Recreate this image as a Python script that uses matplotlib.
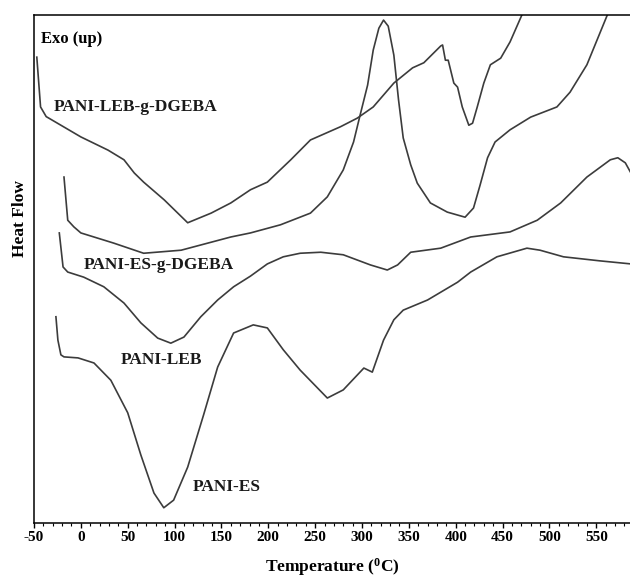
import matplotlib
matplotlib.use("Agg")
import matplotlib.pyplot as plt
from matplotlib.ticker import MultipleLocator

# DSC traces (heat flow in arbitrary units, 0 = axis, 100 = top frame)
leb_g_T = [-47, -43, -37, 0, 29, 46, 57, 67, 89, 114, 139, 160, 181, 199, 224, 245, 277, 295,
           312, 334, 354, 366, 384, 386, 389, 392, 394, 398, 402, 407, 414, 418, 423, 430,
           437, 448, 458, 473]
leb_g_H = [91.7, 81.9, 80.0, 76.0, 73.4, 71.5, 68.9, 67.1, 63.6, 59.1, 61.0, 63.0, 65.6, 67.1,
           71.5, 75.4, 78.0, 79.7, 81.9, 86.6, 89.6, 90.6, 93.9, 94.1, 91.1, 91.1, 89.6, 86.6,
           85.8, 81.9, 78.3, 78.7, 81.9, 86.6, 90.2, 91.5, 94.7, 101]

peak_T = [-18, -14, -7.5, 0, 35, 67, 107, 160, 181, 213, 245, 263, 280, 291, 298, 306, 312,
          318, 323, 328, 334, 339, 344, 352, 359, 373, 391, 410, 419, 426, 434, 442, 458,
          480, 508, 522, 540, 564]
peak_H = [68.1, 59.6, 58.3, 57.1, 55.1, 53.1, 53.7, 56.3, 57.1, 58.7, 61.0, 64.2, 69.5, 75.0,
          80.3, 86.2, 93.1, 97.4, 99.0, 97.8, 92.1, 83.3, 75.8, 70.5, 66.9, 63.0, 61.2, 60.2,
          62.0, 66.5, 71.9, 75.0, 77.4, 79.9, 81.9, 84.8, 90.2, 101]

es_g_T = [-23, -19, -14, 3, 24.5, 46, 64, 82, 96, 110, 128, 146, 163, 181, 199, 216, 234, 256,
          280, 309, 327, 338, 352, 384, 416, 458, 487, 512, 540, 565, 573, 581, 587]
es_g_H = [57.1, 50.4, 49.4, 48.4, 46.5, 43.3, 39.4, 36.4, 35.4, 36.6, 40.6, 43.9, 46.5, 48.6,
          51.0, 52.4, 53.1, 53.3, 52.8, 50.8, 49.8, 50.8, 53.3, 54.1, 56.3, 57.3, 59.6, 63.0,
          68.1, 71.5, 71.9, 70.9, 68.9]

es_T = [-26.6, -24.5, -21.3, -18, -3, 14, 32, 50, 64, 78, 88.5, 99, 114, 131, 146, 163, 184,
        199, 216, 234, 263, 280, 302, 311, 323, 334, 344, 370, 402, 416, 444, 476, 490, 515,
        554, 587]
es_H = [40.6, 36.0, 33.1, 32.7, 32.5, 31.5, 28.1, 21.7, 13.4, 5.9, 3.0, 4.5, 11.0, 21.3, 30.7,
        37.4, 39.0, 38.4, 34.1, 30.1, 24.6, 26.2, 30.5, 29.7, 36.0, 40.0, 41.9, 43.9, 47.4,
        49.4, 52.4, 54.1, 53.7, 52.4, 51.6, 51.0]

plt.rcParams['font.family'] = ['Liberation Serif', 'DejaVu Serif']
plt.rcParams['font.weight'] = 'bold'
plt.rcParams['axes.unicode_minus'] = False
plt.rcParams['mathtext.fontset'] = 'custom'
plt.rcParams['mathtext.rm'] = 'Liberation Serif:bold'
plt.rcParams['mathtext.it'] = 'Liberation Serif:bold'
plt.rcParams['mathtext.bf'] = 'Liberation Serif:bold'

fig = plt.figure(figsize=(6.30, 5.78), dpi=100)
ax = fig.add_axes([34 / 630, 55 / 578, 596 / 630, 508 / 578])

col = '#3c3c3c'
for T, H in [(leb_g_T, leb_g_H), (peak_T, peak_H), (es_g_T, es_g_H), (es_T, es_H)]:
    ax.plot(T, H, color=col, lw=1.2, solid_joinstyle='round')

ax.set_xlim(-50, 586)
ax.set_ylim(0, 100)
ax.set_yticks([])
ax.xaxis.set_major_locator(MultipleLocator(50))
ax.xaxis.set_minor_locator(MultipleLocator(10))
ax.tick_params(axis='x', which='major', length=3.5, width=1, labelsize=11, pad=2)
ax.tick_params(axis='x', which='minor', length=2.5, width=0.8)
ax.spines['right'].set_visible(False)
for s in ['left', 'top', 'bottom']:
    ax.spines[s].set_linewidth(1.1)

ax.set_xlabel(r'Temperature ($^{0}$C)', fontsize=12.5, fontweight='bold', labelpad=9)
ax.set_ylabel('Heat Flow', fontsize=12.5, fontweight='bold')
ax.yaxis.set_label_coords(-0.010, 0.60)

kw = dict(fontsize=12.5, fontweight='bold', color='#1a1a1a', va='center')
ax.text(-43, 95.3, 'Exo (up)', fontsize=12, fontweight='bold', va='center')
ax.text(-29, 81.9, 'PANI-LEB-g-DGEBA', **kw)
ax.text(3, 50.8, 'PANI-ES-g-DGEBA', **kw)
ax.text(43, 32.1, 'PANI-LEB', **kw)
ax.text(119, 7.1, 'PANI-ES', **kw)

fig.savefig('out.png', dpi=100)
